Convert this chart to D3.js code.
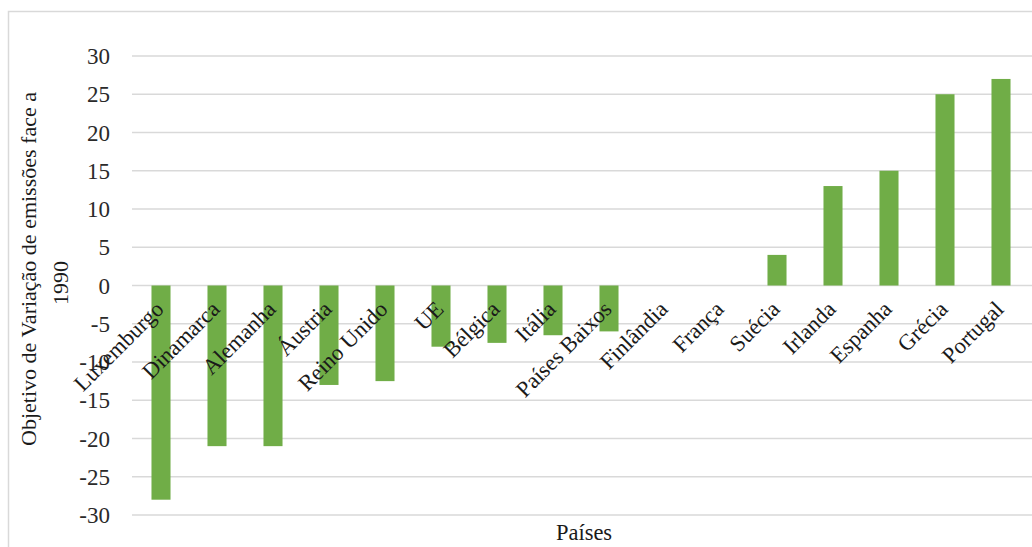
<!DOCTYPE html>
<html>
<head>
<meta charset="utf-8">
<script src="https://cdn.jsdelivr.net/npm/d3@7"></script>
<style>
  html, body { margin: 0; padding: 0; background: #fff; }
  svg text { font-family: "Liberation Serif", "Times New Roman", serif; }
</style>
</head>
<body>
<svg id="chart" width="1032" height="547"></svg>
<script>
// Emission-change targets relative to 1990 (%), per country
const paises = ["Luxemburgo", "Dinamarca", "Alemanha", "Áustria", "Reino Unido", "UE",
  "Bélgica", "Itália", "Países Baixos", "Finlândia", "França", "Suécia",
  "Irlanda", "Espanha", "Grécia", "Portugal"];
const objetivos = [-28, -21, -21, -13, -12.5, -8, -7.5, -6.5, -6, 0, 0, 4, 13, 15, 25, 27];
const yTicks = [30, 25, 20, 15, 10, 5, 0, -5, -10, -15, -20, -25, -30];
const yTitle = ["Objetivo de Variação de emissões face a", "1990"];
const xTitle = "Países";

const svg = d3.select("#chart");
const data = paises.map((p, i) => ({ pais: p, valor: objetivos[i] }));

const x = d3.scaleBand().domain(paises).range([133, 1029]).paddingInner(0.66).paddingOuter(0.33);
const y = d3.scaleLinear().domain([-30, 30]).range([515, 56]);

// chart frame
svg.append("rect")
  .attr("x", 8.5).attr("y", 11.5).attr("width", 1100).attr("height", 600)
  .attr("fill", "#fff").attr("stroke", "#d9d9d9").attr("stroke-width", 1.5);

// horizontal gridlines
svg.append("g").selectAll("line").data(yTicks).join("line")
  .attr("x1", 132).attr("x2", 1032)
  .attr("y1", d => y(d)).attr("y2", d => y(d))
  .attr("stroke", "#d9d9d9").attr("stroke-width", 1.5);

// y tick labels
svg.append("g").selectAll("text").data(yTicks).join("text")
  .attr("x", 110).attr("y", d => y(d)).attr("dy", "0.35em")
  .attr("text-anchor", "end").attr("font-size", 23).attr("fill", "#2a2a2a")
  .text(d => d);

// bars
svg.append("g").selectAll("rect").data(data.filter(d => d.valor !== 0)).join("rect")
  .attr("x", d => x(d.pais)).attr("width", x.bandwidth())
  .attr("y", d => y(Math.max(0, d.valor)))
  .attr("height", d => Math.abs(y(d.valor) - y(0)))
  .attr("fill", "#70ad47");

// category labels, rotated
svg.append("g").selectAll("text").data(paises).join("text")
  .attr("transform", d => `translate(${x(d) + x.bandwidth() / 2 + 4},${y(0) + 25}) rotate(-45)`)
  .attr("text-anchor", "end").attr("font-size", 22.5).attr("fill", "#1a1a1a")
  .text(d => d);

// y axis title
svg.append("text")
  .attr("transform", "translate(36,269) rotate(-90)")
  .attr("text-anchor", "middle").attr("font-size", 22).attr("fill", "#1a1a1a")
  .text(yTitle[0]);
svg.append("text")
  .attr("transform", "translate(68,283) rotate(-90)")
  .attr("text-anchor", "middle").attr("font-size", 22).attr("fill", "#1a1a1a")
  .text(yTitle[1]);

// x axis title
svg.append("text")
  .attr("x", 584).attr("y", 540)
  .attr("text-anchor", "middle").attr("font-size", 22.5).attr("fill", "#1a1a1a")
  .text(xTitle);
</script>
</body>
</html>
